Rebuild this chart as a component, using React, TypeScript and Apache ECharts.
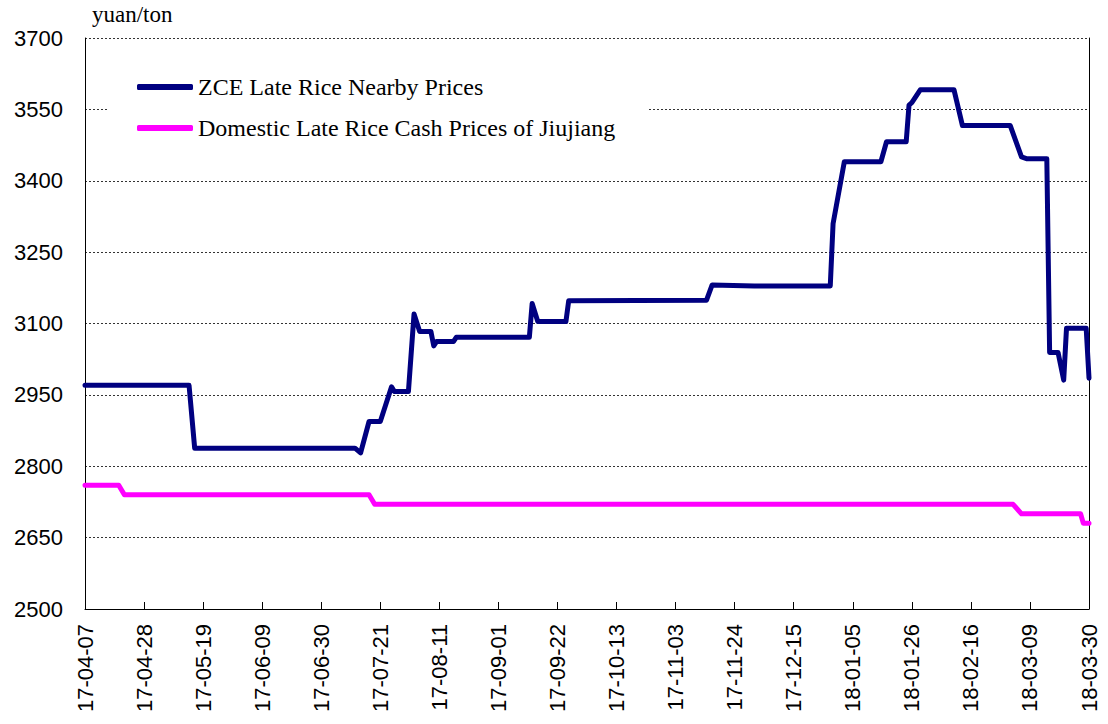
import React, { useEffect, useRef } from "react";
import * as echarts from "echarts";

const startDate = "2017-04-07";
const endDate = "2018-03-30";

const yTicks = { min: 2500, max: 3700, interval: 150 };

const zceName = "ZCE Late Rice Nearby Prices";
const zceDates = [
  "17-04-07", "17-05-14", "17-05-16", "17-07-12", "17-07-14", "17-07-17", "17-07-21",
  "17-07-25", "17-07-26", "17-07-31", "17-08-02", "17-08-04", "17-08-08", "17-08-09",
  "17-08-10", "17-08-16", "17-08-17", "17-09-12", "17-09-13", "17-09-15", "17-09-25",
  "17-09-26", "17-11-14", "17-11-16", "17-12-01", "17-12-28", "17-12-29", "18-01-02",
  "18-01-15", "18-01-17", "18-01-24", "18-01-25", "18-01-26", "18-01-29", "18-02-10",
  "18-02-13", "18-03-02", "18-03-06", "18-03-08", "18-03-15", "18-03-16", "18-03-19",
  "18-03-21", "18-03-22", "18-03-29", "18-03-30",
];
const zceValues = [
  2970, 2970, 2838, 2838, 2828, 2894, 2894,
  2967, 2957, 2957, 3120, 3083, 3083, 3053,
  3062, 3062, 3071, 3071, 3142, 3104, 3104,
  3148, 3149, 3181, 3179, 3179, 3310, 3440,
  3440, 3482, 3482, 3559, 3564, 3591, 3591,
  3516, 3516, 3450, 3446, 3446, 3039, 3039,
  2981, 3090, 3090, 2985,
];

const cashName = "Domestic Late Rice Cash Prices of Jiujiang";
const cashDates = [
  "17-04-07", "17-04-19", "17-04-21", "17-07-17", "17-07-19",
  "18-03-03", "18-03-06", "18-03-27", "18-03-28", "18-03-30",
];
const cashValues = [2760, 2760, 2740, 2740, 2720, 2720, 2700, 2700, 2680, 2680];

function buildCategories(): string[] {
  const out: string[] = [];
  const d = new Date(startDate + "T00:00:00Z");
  const end = new Date(endDate + "T00:00:00Z");
  while (d.getTime() <= end.getTime()) {
    const yy = String(d.getUTCFullYear()).slice(2);
    const mm = String(d.getUTCMonth() + 1).padStart(2, "0");
    const dd = String(d.getUTCDate()).padStart(2, "0");
    out.push(`${yy}-${mm}-${dd}`);
    d.setUTCDate(d.getUTCDate() + 1);
  }
  return out;
}

function toSeries(cats: string[], dates: string[], values: number[]) {
  const arr: (number | null)[] = cats.map(() => null);
  dates.forEach((dt, i) => {
    const idx = cats.indexOf(dt);
    if (idx >= 0) arr[idx] = values[i];
  });
  return arr;
}

export default function App() {
  const ref = useRef<HTMLDivElement>(null);
  useEffect(() => {
    if (!ref.current) return;
    const chart = echarts.init(ref.current, undefined, { renderer: "svg" });
    const cats = buildCategories();
    const sans = "'Liberation Sans', Arial, sans-serif";
    const serif = "'Liberation Serif', 'Times New Roman', serif";
    chart.setOption({
      animation: false,
      backgroundColor: "#fff",
      grid: { left: 85, right: 19, top: 38, bottom: 115 },
      legend: {
        orient: "vertical",
        left: 108,
        top: 67,
        padding: [8, 32, 8, 29],
        backgroundColor: "#fff",
        itemWidth: 56,
        itemHeight: 6,
        itemGap: 17,
        icon: "roundRect",
        textStyle: { fontFamily: serif, fontSize: 24, color: "#000", lineHeight: 24 },
        data: [zceName, cashName],
      },
      graphic: [
        {
          type: "text",
          x: 92,
          y: 3,
          style: { text: "yuan/ton", font: `23px ${serif}`, fill: "#000", verticalAlign: "top" },
        },
      ],
      xAxis: {
        type: "category",
        data: cats,
        boundaryGap: false,
        axisLine: { show: true, lineStyle: { color: "#000", width: 1 } },
        axisTick: { show: true, inside: true, length: 7, interval: 20, lineStyle: { color: "#000" } },
        axisLabel: {
          interval: 20,
          rotate: 90,
          margin: 15,
          fontFamily: sans,
          fontSize: 22,
          color: "#000",
        },
        splitLine: { show: false },
      },
      yAxis: [
        {
          type: "value",
          min: yTicks.min,
          max: yTicks.max,
          interval: yTicks.interval,
          axisLine: { show: true, lineStyle: { color: "#000", width: 1 } },
          axisTick: { show: false },
          axisLabel: {
            margin: 22,
            fontFamily: sans,
            fontSize: 22,
            color: "#000",
            formatter: (v: number) => String(v),
          },
          splitLine: { show: true, lineStyle: { color: "#333", width: 1, type: [2, 2] } },
        },
        {
          type: "value",
          position: "right",
          min: yTicks.min,
          max: yTicks.max,
          interval: yTicks.interval,
          axisLine: { show: true, lineStyle: { color: "#000", width: 1 } },
          axisTick: { show: false },
          axisLabel: { show: false },
          splitLine: { show: false },
        },
      ],
      series: [
        {
          name: zceName,
          type: "line",
          data: toSeries(cats, zceDates, zceValues),
          connectNulls: true,
          showSymbol: false,
          symbol: "none",
          color: "#000080",
          lineStyle: { width: 5, color: "#000080", cap: "round", join: "round" },
        },
        {
          name: cashName,
          type: "line",
          data: toSeries(cats, cashDates, cashValues),
          connectNulls: true,
          showSymbol: false,
          symbol: "none",
          color: "#FF00FF",
          lineStyle: { width: 5, color: "#FF00FF", cap: "round", join: "round" },
        },
      ],
    });
    return () => chart.dispose();
  }, []);
  return (
    <div
      ref={ref}
      style={{ position: "fixed", left: 0, top: 0, width: 1108, height: 724 }}
    />
  );
}
